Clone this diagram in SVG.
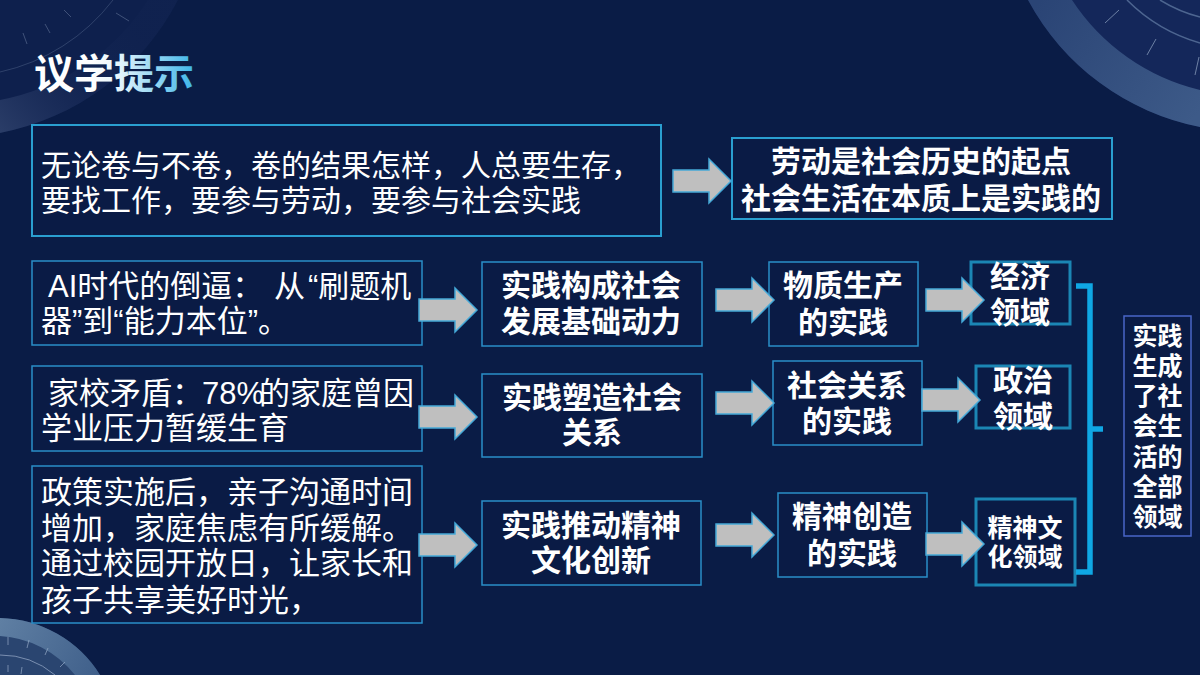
<svg xmlns="http://www.w3.org/2000/svg" width="1200" height="675" viewBox="0 0 1200 675">
<defs>
<linearGradient id="tg" gradientUnits="userSpaceOnUse" x1="90" y1="0" x2="190" y2="0"><stop offset="0" stop-color="#ffffff"/><stop offset="0.3" stop-color="#e4f4fb"/><stop offset="1" stop-color="#45b8ea"/></linearGradient>
<linearGradient id="tl" gradientUnits="userSpaceOnUse" x1="0" y1="130" x2="130" y2="20"><stop offset="0" stop-color="#5b6f96" stop-opacity=".6"/><stop offset=".6" stop-color="#2a3c6c" stop-opacity=".22"/><stop offset="1" stop-color="#2a3c6c" stop-opacity=".1"/></linearGradient>
<linearGradient id="tr" gradientUnits="userSpaceOnUse" x1="1040" y1="0" x2="1200" y2="110"><stop offset="0" stop-color="#2a4475"/><stop offset="1" stop-color="#3d5a88"/></linearGradient>
<linearGradient id="bl" gradientUnits="userSpaceOnUse" x1="0" y1="620" x2="100" y2="675"><stop offset="0" stop-color="#5f7fa3"/><stop offset="1" stop-color="#3f5f8a"/></linearGradient>
<path id="arr" d="M0 -11H36V-22L58 0L36 22V11H0Z" fill="#bfbfbf" stroke="#45a9d8" stroke-width="1.5"/>
</defs>
<style>
text{font-family:"Liberation Sans","Noto Sans CJK SC",sans-serif;fill:#fff;text-anchor:middle}
.b{font-weight:700;font-size:30px;font-family:"Noto Sans CJK SC",sans-serif}
.n{font-size:31px;text-anchor:start}
.n1{font-size:30px}
.s{font-weight:700;font-size:25px;font-family:"Noto Sans CJK SC",sans-serif}
rect{fill:#0a1b45}
.l{stroke:#2a9fd0;stroke-width:2}
.m{stroke:#2a8ec8;stroke-width:1.5}
.t{stroke:#1b86b4;stroke-width:3}
.v{stroke:#4a66c8;stroke-width:1.5}
.tick{stroke:#9db0cc;stroke-width:1;fill:none;opacity:.65}
.c{fill:none;stroke:#7a8fb0;stroke-width:1}
</style>
<path d="M0 0H1200V675H0Z" fill="#0a1c46"/>
<g id="decor">
<g>
<path d="M0 133A255 255 0 0 0 178 0H0Z" fill="#0f2250" opacity=".7"/>
<path d="M0 133A255 255 0 0 0 178 0H148A225 225 0 0 1 0 100Z" fill="url(#tl)" opacity=".6"/>
<path d="M0 72A195 195 0 0 0 113 0" class="c" opacity=".3"/>
<path class="tick" d="M23 33L27 44M45 24L50 33M64 10L71 17M116 13L129 21" style="opacity:.35"/>
</g>
<g>
<path d="M1028 0A250 250 0 0 0 1200 127V0Z" fill="#14275a"/>
<path d="M1028 0A250 250 0 0 0 1200 127V90A212 212 0 0 1 1072 0Z" fill="url(#tr)"/>
<path d="M1127 0A168 168 0 0 0 1200 43M1160 0A145 145 0 0 0 1200 17" fill="none" stroke="#4d6590" stroke-width="1.5"/>
<path class="tick" d="M1105 23L1119 10M1147 55L1156 39M1195 75L1199 57"/>
</g>
<g>
<path d="M0 618A121 121 0 0 1 100 675H0Z" fill="#2a4570"/>
<path d="M0 618A121 121 0 0 1 100 675H75A103 103 0 0 0 0 636Z" fill="url(#bl)"/>
<path d="M0 655A85 85 0 0 1 55 675" class="c"/>
<path class="tick" d="M8 637V645M29 640L27 648M48 648L45 655M65 662L60 667M8 665V672M22 667L21 674"/>
</g>
</g>
<text id="title" x="34" y="88" style="font-size:40px;font-weight:700;text-anchor:start;fill:url(#tg);font-family:'Noto Sans CJK SC',sans-serif">议学提示</text>
<g id="n1"><rect class="l" x="32" y="125" width="629" height="111"/><text class="n n1" x="41" y="176">无论卷与不卷，卷的结果怎样，人总要生存，</text><text class="n n1" x="41" y="211">要找工作，要参与劳动，要参与社会实践</text></g>
<g id="n2"><rect class="l" x="732" y="138" width="380" height="81"/><text class="b" x="921" y="172">劳动是社会历史的起点</text><text class="b" x="921" y="209">社会生活在本质上是实践的</text></g>
<g id="n3"><rect class="m" x="32" y="261" width="390" height="84"/><text class="n" y="297"><tspan x="48">AI时代的倒逼：</tspan><tspan x="274">从</tspan><tspan x="308">“刷题机</tspan></text><text class="n" x="41" y="332">器”到“能力本位”。</text></g>
<g id="n4"><rect class="m" x="32" y="366" width="390" height="85"/><text class="n" y="404"><tspan x="48">家校矛盾：</tspan><tspan x="202">78%</tspan><tspan x="259">的家庭曾因</tspan></text><text class="n" x="41" y="439">学业压力暂缓生育</text></g>
<g id="n5"><rect class="m" x="32" y="466" width="390" height="157"/><text class="n" x="41" y="503">政策实施后，亲子沟通时间</text><text class="n" x="41" y="539">增加，家庭焦虑有所缓解。</text><text class="n" x="41" y="574">通过校园开放日，让家长和</text><text class="n" x="41" y="611">孩子共享美好时光，</text></g>
<g id="n6"><rect class="m" x="482" y="262" width="220" height="84"/><text class="b" x="591" y="296">实践构成社会</text><text class="b" x="591" y="332">发展基础动力</text></g>
<g id="n7"><rect class="m" x="482" y="374" width="220" height="83"/><text class="b" x="592" y="408">实践塑造社会</text><text class="b" x="592" y="443">关系</text></g>
<g id="n8"><rect class="m" x="482" y="501" width="219" height="84"/><text class="b" x="591" y="536">实践推动精神</text><text class="b" x="591" y="571">文化创新</text></g>
<g id="n9"><rect class="m" x="769" y="262" width="149" height="84"/><text class="b" x="843" y="296">物质生产</text><text class="b" x="843" y="333">的实践</text></g>
<g id="n10"><rect class="m" x="773" y="361" width="149" height="84"/><text class="b" x="847" y="396">社会关系</text><text class="b" x="847" y="432">的实践</text></g>
<g id="n11"><rect class="m" x="778" y="493" width="149" height="84"/><text class="b" x="852" y="527">精神创造</text><text class="b" x="852" y="564">的实践</text></g>
<g id="n12"><rect class="t" x="971" y="262" width="99" height="62"/><text class="b" x="1020" y="287">经济</text><text class="b" x="1020" y="323">领域</text></g>
<g id="n13"><rect class="t" x="976" y="366" width="94" height="62"/><text class="b" x="1023" y="391">政治</text><text class="b" x="1023" y="427">领域</text></g>
<g id="n14"><rect class="t" x="976" y="499" width="99" height="86"/><text class="s" x="1025" y="537">精神文</text><text class="s" x="1025" y="566">化领域</text></g>
<g id="n15"><rect class="v" x="1124" y="316" width="67" height="220"/><text class="s" x="1157.5" y="345">实践</text><text class="s" x="1157.5" y="375">生成</text><text class="s" x="1157.5" y="405">了社</text><text class="s" x="1157.5" y="435">会生</text><text class="s" x="1157.5" y="466">活的</text><text class="s" x="1157.5" y="496">全部</text><text class="s" x="1157.5" y="526">领域</text></g>
<g id="connectors">
<use href="#arr" x="673" y="181"/>
<use href="#arr" x="419" y="310"/>
<use href="#arr" x="419" y="417"/>
<use href="#arr" x="419" y="545"/>
<use href="#arr" x="716" y="300"/>
<use href="#arr" x="716" y="403"/>
<use href="#arr" x="716" y="535"/>
<use href="#arr" x="926" y="300"/>
<use href="#arr" x="922" y="400"/>
<use href="#arr" x="926" y="544"/>
<path id="bracket" d="M1076 286H1090V572H1076M1090 429H1103" fill="none" stroke="#0fa7e4" stroke-width="5.5"/>
</g>
</svg>
